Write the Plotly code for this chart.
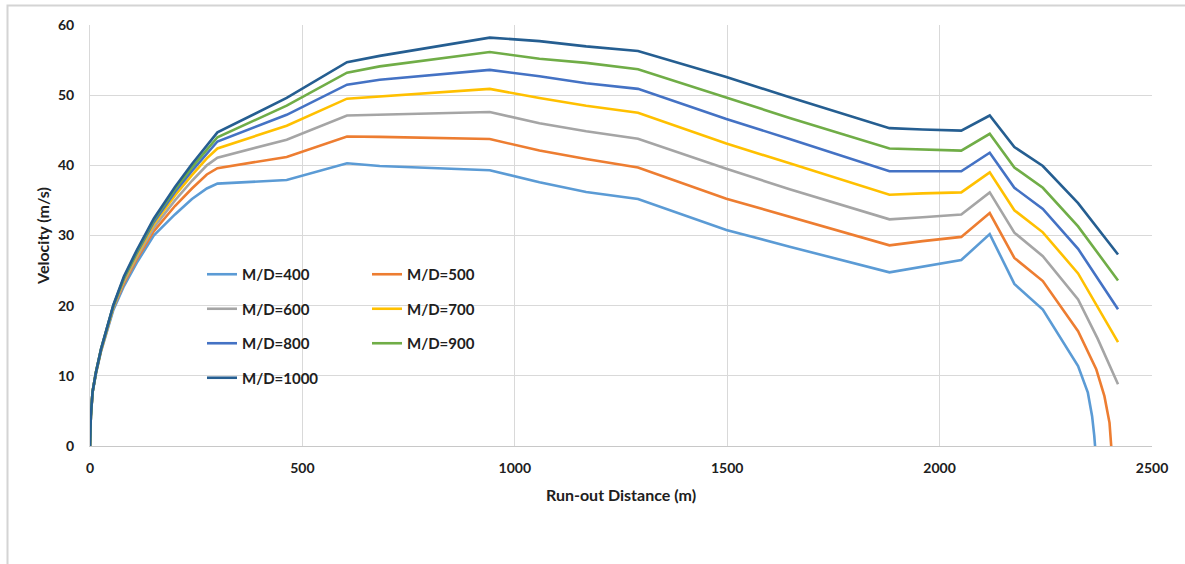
import plotly.graph_objects as go

# ---------------- data ----------------
series_names = ["M/D=400", "M/D=500", "M/D=600", "M/D=700", "M/D=800", "M/D=900", "M/D=1000"]
colors = ["#5B9BD5", "#ED7D31", "#A5A5A5", "#FFC000", "#4472C4", "#70AD47", "#255E91"]

# common run-out distances (m)
x_common = [0, 2, 6, 14, 26, 40, 55, 80, 110, 150, 200, 240, 275, 300,
            463, 605, 682, 941, 1058, 1168, 1290, 1498, 1647, 1882, 1960,
            2051, 2118, 2176, 2243, 2326]

v_400 = [0, 4.2, 7.6, 10.3, 13.5, 16.5, 19.4, 22.8, 26.1, 30.0, 33.0, 35.2, 36.7, 37.4,
         37.9, 40.3, 39.9, 39.3, 37.6, 36.2, 35.2, 30.8, 28.4, 24.75, 25.6,
         26.5, 30.2, 23.1, 19.45, 11.4]
v_500 = [0, 4.3, 7.7, 10.4, 13.6, 16.7, 19.7, 23.2, 26.6, 30.6, 34.2, 36.7, 38.7, 39.6,
         41.2, 44.1, 44.05, 43.75, 42.1, 40.9, 39.7, 35.25, 32.65, 28.6, 29.2,
         29.8, 33.2, 26.8, 23.5, 16.35]
v_600 = [0, 4.3, 7.7, 10.5, 13.7, 16.8, 19.8, 23.5, 26.9, 31.1, 35.0, 37.8, 40.0, 41.1,
         43.66, 47.1, 47.2, 47.6, 46.0, 44.85, 43.8, 39.5, 36.6, 32.3, 32.6,
         33.0, 36.15, 30.4, 27.05, 20.9]
v_700 = [0, 4.3, 7.7, 10.5, 13.7, 16.8, 19.9, 23.7, 27.2, 31.6, 35.7, 38.6, 41.0, 42.4,
         45.65, 49.5, 49.8, 50.9, 49.6, 48.5, 47.5, 43.1, 40.3, 35.8, 36.0,
         36.15, 39.0, 33.6, 30.45, 24.6]
v_800 = [0, 4.3, 7.7, 10.5, 13.8, 16.9, 20.0, 23.9, 27.5, 31.9, 36.2, 39.2, 41.7, 43.4,
         47.2, 51.5, 52.2, 53.6, 52.7, 51.7, 50.9, 46.6, 43.76, 39.15, 39.15,
         39.15, 41.8, 36.8, 33.8, 28.1]
v_900 = [0, 4.3, 7.7, 10.5, 13.8, 16.9, 20.0, 24.0, 27.7, 32.2, 36.6, 39.7, 42.3, 44.0,
         48.5, 53.2, 54.1, 56.15, 55.2, 54.6, 53.7, 49.7, 46.75, 42.4, 42.3,
         42.1, 44.5, 39.7, 36.8, 31.3]
v_1000 = [0, 4.3, 7.7, 10.5, 13.8, 16.9, 20.1, 24.2, 27.9, 32.4, 36.9, 40.2, 42.8, 44.7,
          49.6, 54.7, 55.6, 58.2, 57.7, 56.95, 56.3, 52.6, 49.7, 45.3, 45.1,
          44.95, 47.1, 42.6, 39.9, 34.6]

# tails after 2326 m (distance, velocity)
tail_x_400 = [2349, 2359, 2364, 2366]
tail_v_400 = [7.6, 4.25, 1.5, 0]
tail_x_500 = [2369, 2388, 2400, 2404]
tail_v_500 = [10.9, 7.1, 3.3, 0]
tail_x_600 = [2372, 2420]
tail_v_600 = [15.3, 8.8]
tail_x_700 = [2420]
tail_v_700 = [14.8]
tail_x_800 = [2420]
tail_v_800 = [19.5]
tail_x_900 = [2420]
tail_v_900 = [23.6]
tail_x_1000 = [2420]
tail_v_1000 = [27.3]

x_ticks = [0, 500, 1000, 1500, 2000, 2500]
y_ticks = [0, 10, 20, 30, 40, 50, 60]

bodies = [v_400, v_500, v_600, v_700, v_800, v_900, v_1000]
tails_x = [tail_x_400, tail_x_500, tail_x_600, tail_x_700, tail_x_800, tail_x_900, tail_x_1000]
tails_v = [tail_v_400, tail_v_500, tail_v_600, tail_v_700, tail_v_800, tail_v_900, tail_v_1000]
legend_ids = ["legend", "legend2", "legend", "legend2", "legend", "legend2", "legend"]

# ---------------- figure ----------------
FONT = "Lato, 'Open Sans', sans-serif"
TXT = "#202020"

fig = go.Figure()
for i, name in enumerate(series_names):
    fig.add_trace(go.Scatter(
        x=x_common + tails_x[i], y=bodies[i] + tails_v[i],
        mode="lines", name=name,
        line=dict(color=colors[i], width=2.6),
        legend=legend_ids[i], legendgroup=name,
    ))

W, H = 1185, 564
ML, MR, MT, MB = 90, 33, 25, 118
PW, PH = W - ML - MR, H - MT - MB

def px_x(p):
    return (p - ML) / PW

def px_y(p):
    return (H - MB - p) / PH

legend_common = dict(
    orientation="v", xanchor="left", yanchor="top",
    bgcolor="rgba(0,0,0,0)", borderwidth=0,
    font=dict(family=FONT, size=15, color=TXT, weight="bold"),
    tracegroupgap=12, itemwidth=30,
)

fig.update_layout(
    width=W, height=H,
    margin=dict(l=ML, r=MR, t=MT, b=MB),
    paper_bgcolor="white", plot_bgcolor="white",
    font=dict(family=FONT, color=TXT),
    showlegend=True,
    legend=dict(x=px_x(202), y=px_y(258), **legend_common),
    legend2=dict(x=px_x(367), y=px_y(258), **legend_common),
    xaxis=dict(
        range=[0, 2500], tickvals=x_ticks, ticktext=[str(v) for v in x_ticks],
        showgrid=True, gridcolor="#D9D9D9", gridwidth=1,
        zeroline=False, showline=True, linecolor="#C8C8C8", linewidth=1,
        ticks="", ticklabelstandoff=9,
        tickfont=dict(family=FONT, size=14, color=TXT, weight="bold"),
        title=dict(text="Run-out Distance (m)", standoff=15,
                   font=dict(family=FONT, size=16, color=TXT, weight="bold")),
    ),
    yaxis=dict(
        range=[0, 60], tickvals=y_ticks, ticktext=[str(v) for v in y_ticks],
        showgrid=True, gridcolor="#D9D9D9", gridwidth=1,
        zeroline=False, showline=True, linecolor="#D9D9D9", linewidth=1,
        ticks="", ticklabelstandoff=12,
        tickfont=dict(family=FONT, size=14, color=TXT, weight="bold"),
        title=dict(text="Velocity (m/s)", standoff=4,
                   font=dict(family=FONT, size=16, color=TXT, weight="bold")),
    ),
    shapes=[
        # white box behind the legend hiding gridlines
        dict(type="rect", xref="paper", yref="paper", layer="between",
             x0=px_x(179), x1=px_x(540), y0=px_y(395), y1=px_y(257),
             fillcolor="white", line=dict(width=0)),
        # outer chart frame (cropped at right and bottom)
        dict(type="rect", xref="paper", yref="paper", layer="above",
             x0=px_x(7.5), x1=px_x(1300), y0=px_y(700), y1=px_y(5.5),
             fillcolor="rgba(0,0,0,0)", line=dict(color="#D4D4D4", width=2)),
    ],
)

fig.write_html(
    "out.html",
    config={"displayModeBar": False},
    post_script="document.body.style.margin='0';document.body.style.overflow='hidden';",
)
